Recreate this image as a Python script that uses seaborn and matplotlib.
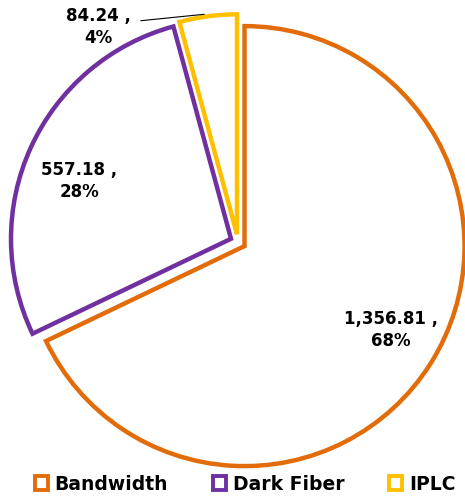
import matplotlib
matplotlib.use("Agg")
import matplotlib.pyplot as plt
from matplotlib.patches import Patch
import seaborn as sns

# data
categories = ["Bandwidth", "Dark Fiber", "IPLC"]
values = [1356.81, 557.18, 84.24]
percents = ["68%", "28%", "4%"]
colors = ["#E36C0A", "#7030A0", "#FFC000"]

sns.set_theme(style="white")
plt.rcParams["font.family"] = ["DejaVu Sans"]
plt.rcParams["text.color"] = "black"

W, H = 465, 497
fig = plt.figure(figsize=(W / 100, H / 100), dpi=100, facecolor="w")
ax = fig.add_axes([0, 0, 1, 1])

wedges, _ = ax.pie(values, startangle=90, counterclock=False,
                   explode=[0.035, 0.035, 0.035], radius=1.0,
                   colors=["white"] * 3,
                   wedgeprops=dict(linewidth=3.2, joinstyle="miter"))
for w, c in zip(wedges, colors):
    w.set_edgecolor(c)

# map pixels -> data: pie centre at (238, 242) px, radius 220 px
cx, cy, r = 238, 242, 220
ax.set_xlim(-cx / r, (W - cx) / r)
ax.set_ylim(-(H - cy) / r, cy / r)
ax.set_aspect("auto")
ax.axis("off")

def px(x, y):
    return ((x - cx) / r, (cy - y) / r)

lab_kw = dict(ha="center", va="center", fontsize=12, fontweight="bold",
              color="black", linespacing=1.35)
ax.text(*px(391, 330), f"{values[0]:,.2f} ,\n{percents[0]}", **lab_kw)
ax.text(*px(79, 181), f"{values[1]:,.2f} ,\n{percents[1]}", **lab_kw)
ax.text(*px(98, 27), f"{values[2]:,.2f} ,\n{percents[2]}", **lab_kw)
ax.annotate("", xy=px(207, 14), xytext=px(138, 21),
            arrowprops=dict(arrowstyle="-", color="black", lw=0.8))

handles = [Patch(facecolor="white", edgecolor=c, linewidth=2.8, label=n)
           for n, c in zip(categories, colors)]
leg = fig.legend(handles=handles, loc="center",
                 bbox_to_anchor=(245 / W, 1 - 484 / H),
                 ncol=3, frameon=False, handlelength=0.7, handleheight=0.7,
                 handletextpad=0.35, columnspacing=2.4,
                 prop=dict(size=13.5, weight="bold"))
for t in leg.get_texts():
    t.set_color("black")

fig.savefig("out.png", dpi=100, facecolor="w")
